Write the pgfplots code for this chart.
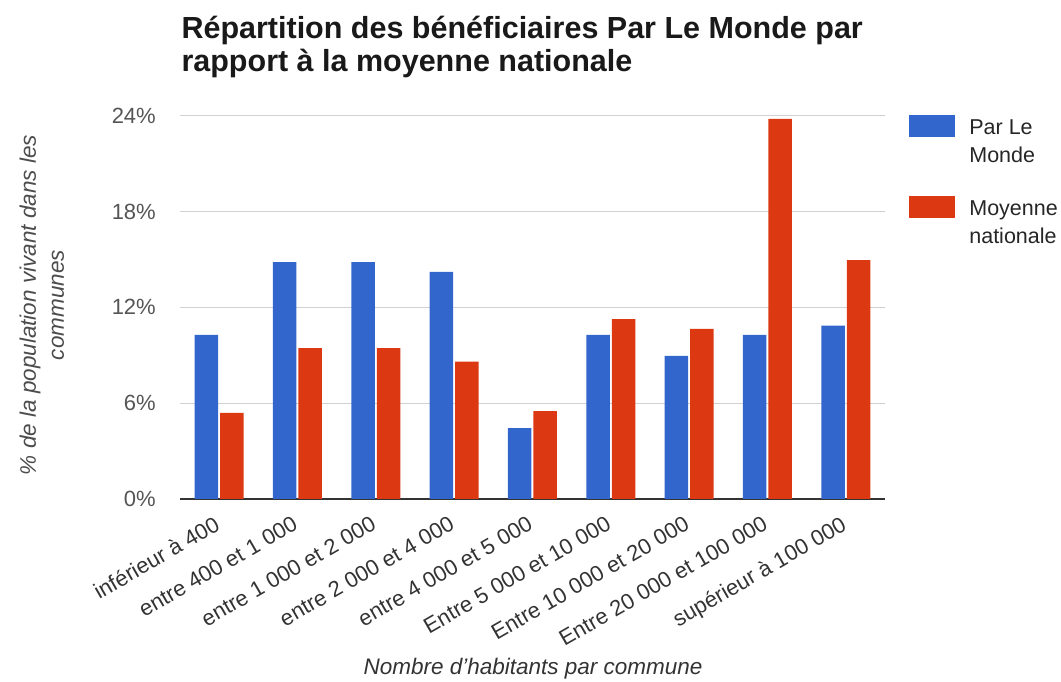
\documentclass[border=0pt]{standalone}
\usepackage{pgfplots}
\pgfplotsset{compat=1.18}
\usepackage{fontspec}
\setmainfont{Liberation Sans}
\definecolor{gblue}{HTML}{3366CC}
\definecolor{gred}{HTML}{DC3912}
\definecolor{tickgray}{HTML}{555555}
\begin{document}
\begin{tikzpicture}[x=1pt,y=1pt]
\useasboundingbox (-180,-183) rectangle (881,499);
\begin{axis}[
  scale only axis,
  width=705pt, height=383.3pt,
  anchor=south west, at={(0pt,0pt)},
  xmin=-0.5, xmax=8.5, ymin=0, ymax=24,
  ybar=2pt, bar width=0.3,
  axis line style={draw=none},
  major tick length=0pt,
  ytick={0,6,12,18,24},
  ymajorgrids, grid style={draw=black!18, line width=0.8pt},
  extra y ticks={0}, extra y tick labels={},
  extra y tick style={grid style={draw=black!80, line width=1.4pt}},
  yticklabel={\pgfmathprintnumber{\tick}\%},
  /pgf/number format/assume math mode=true,
  yticklabel style={font=\fontsize{22}{26}\selectfont, text=tickgray, anchor=east, inner sep=0pt, xshift=-24pt},
  xtick={0,...,8},
  xticklabels={inférieur à 400, entre 400 et 1 000, entre 1 000 et 2 000, entre 2 000 et 4 000, entre 4 000 et 5 000, Entre 5 000 et 10 000, Entre 10 000 et 20 000, Entre 20 000 et 100 000, supérieur à 100 000},
  xticklabel style={font=\fontsize{22}{26}\selectfont, text=black!80, xshift=-6pt, yshift=-16pt, rotate=30, anchor=north east, inner sep=0pt},
  xlabel={Nombre d'habitants par commune},
  xlabel style={at={(axis description cs:0.5007,-0.4435)}, anchor=center, font=\itshape\fontsize{22.5}{27}\selectfont, text=black!80},
  ylabel={\% de la population vivant dans les\\communes},
  ylabel style={at={(axis description cs:-0.196,0.506)}, anchor=center, align=center, font=\itshape\fontsize{22.5}{28}\selectfont, text=black!70},
  legend style={draw=none, fill=none, at={(rel axis cs:1.03,1.008)}, anchor=north west, font=\fontsize{21.5}{28}\selectfont, text=black!85, row sep=30pt, cells={align=left, anchor=west}, /tikz/every odd column/.append style={column sep=12pt}},
  legend image code/.code={\fill[#1] (0pt,5pt) rectangle (46pt,27pt);},
]
\addplot[fill=gblue, draw=none] coordinates {(0,10.27) (1,14.83) (2,14.83) (3,14.22) (4,4.43) (5,10.27) (6,8.96) (7,10.27) (8,10.86)};
\addplot[fill=gred, draw=none] coordinates {(0,5.4) (1,9.44) (2,9.44) (3,8.6) (4,5.5) (5,11.26) (6,10.65) (7,23.8) (8,14.95)};
\legend{Par Le\\Monde, Moyenne\\nationale}
\end{axis}
\node[anchor=base west, font=\bfseries\fontsize{30.5}{34}\selectfont, text=black!90] at (-2,460) {Répartition des bénéficiaires Par Le Monde par};
\node[anchor=base west, font=\bfseries\fontsize{30.5}{34}\selectfont, text=black!90] at (-2,427) {rapport à la moyenne nationale};
\end{tikzpicture}
\end{document}
